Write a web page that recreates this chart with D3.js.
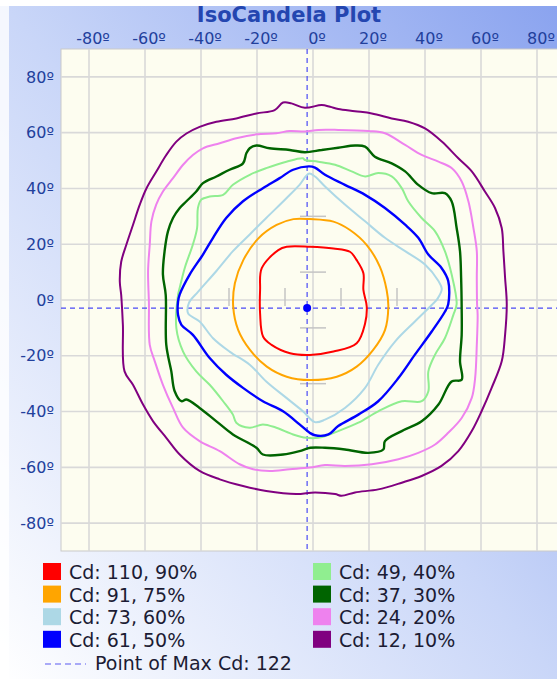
<!DOCTYPE html>
<html>
<head>
<meta charset="utf-8">
<script src="https://d3js.org/d3.v7.min.js"></script>
<style>
  html, body { margin: 0; padding: 0; background: #fff; overflow: hidden; }
  svg { display: block; font-family: "DejaVu Sans", Verdana, sans-serif; }
</style>
</head>
<body>
<div id="chart"></div>
<script>
// IsoCandela plot - contours in degrees (horizontal, vertical)

const xTicks = [-80, -60, -40, -20, 0, 20, 40, 60, 80];
const yTicks = [-80, -60, -40, -20, 0, 20, 40, 60, 80];
const minorTicks = [-30, -10, 10, 30];

const levelCd = [110, 91, 73, 61, 49, 37, 24, 12];
const levelPct = [90, 75, 60, 50, 40, 30, 20, 10];
const levelColors = ['#ff0000', '#ffa500', '#add8e6', '#0000ff', '#90ee90', '#006400', '#ee82ee', '#800080'];

const maxCd = 122;
const maxPoint = [-2.1, -2.9];

const red90 = [[-1.1,19.1],[7.3,18.5],[13.2,17.3],[15.6,14.3],[18.0,9.6],[18.0,3.6],[19.2,-2.4],[18.6,-8.4],[15.6,-15.5],[7.3,-18.5],[-1.1,-19.7],[-8.2,-19.1],[-14.8,-16.1],[-17.8,-13.2],[-18.9,-4.8],[-18.9,3.6],[-18.3,11.4],[-12.4,17.9],[-9.4,19.1]];

const orange75 = [[-1.1,29.0],[7.3,28.1],[13.2,25.1],[19.2,19.7],[23.9,11.9],[26.3,3.6],[26.9,-2.4],[25.7,-10.8],[21.5,-17.9],[15.6,-23.9],[8.5,-27.5],[-1.1,-28.7],[-9.4,-27.5],[-16.5,-23.9],[-22.5,-17.9],[-26.7,-10.8],[-28.5,-2.4],[-27.9,6.0],[-24.9,14.3],[-19.5,22.1],[-13.0,26.9],[-7.0,29.0]];

const lightBlue60 = [[-1.5,45.3],[0.7,44.3],[4.3,40.7],[11.4,34.2],[18.6,28.2],[25.7,22.3],[32.9,17.5],[40.0,12.7],[44.8,6.8],[46.0,4.0],[44.5,0.5],[42.4,-1.8],[36.4,-7.7],[29.3,-14.9],[23.3,-23.2],[18.6,-31.5],[11.4,-38.7],[4.3,-42.9],[0.7,-43.8],[-3.6,-39.9],[-9.5,-35.1],[-16.7,-29.2],[-22.6,-23.2],[-29.8,-18.5],[-35.7,-13.7],[-40.5,-7.7],[-44.6,-4.8],[-44.3,-1.0],[-41.0,3.0],[-34.5,10.4],[-28.6,17.5],[-22.6,23.5],[-16.7,29.4],[-9.5,36.5],[-4.8,41.3]];

const blue50 = [[-1.5,47.9],[0.7,47.5],[4.3,44.9],[11.4,41.3],[18.6,37.7],[25.7,33.0],[32.9,27.0],[37.6,22.3],[41.2,16.3],[45.9,11.5],[48.3,6.8],[48.3,-1.5],[47.1,-4.2],[42.4,-11.3],[36.4,-19.6],[30.5,-28.0],[23.3,-36.3],[16.2,-41.1],[9.0,-45.2],[5.5,-48.2],[0.7,-48.5],[-1.2,-47.6],[-4.8,-44.6],[-10.7,-39.9],[-17.9,-36.3],[-25.0,-31.5],[-31.0,-26.8],[-36.9,-20.8],[-42.9,-12.5],[-47.0,-8.9],[-48.2,-5.4],[-48.2,-0.6],[-47.6,2.0],[-44.0,9.2],[-39.3,16.3],[-35.7,22.3],[-31.0,29.4],[-25.0,35.4],[-17.9,40.1],[-11.9,43.7],[-7.1,46.7]];

const lightGreen40 = [[-2.9,50.2],[1.9,49.6],[7.9,48.5],[13.8,46.1],[18.6,44.3],[23.3,45.5],[28.1,44.3],[31.7,40.1],[34.0,35.4],[38.8,29.4],[43.6,24.6],[47.1,17.5],[49.5,9.2],[51.3,-1.5],[50.1,-5.4],[47.1,-13.7],[43.6,-19.6],[41.2,-25.6],[41.2,-32.7],[38.8,-36.3],[31.7,-36.3],[23.3,-39.9],[16.2,-44.0],[9.0,-47.0],[1.9,-49.4],[-2.4,-49.4],[-7.1,-48.2],[-13.1,-45.8],[-17.9,-44.6],[-22.6,-45.8],[-27.4,-44.0],[-28.6,-41.1],[-32.1,-36.3],[-36.9,-30.4],[-41.7,-25.6],[-46.4,-18.5],[-48.8,-10.1],[-48.2,1.8],[-47.6,4.4],[-45.8,11.5],[-42.9,19.9],[-41.4,25.8],[-41.1,33.0],[-39.9,36.0],[-36.9,37.1],[-32.1,37.7],[-28.6,41.3],[-22.6,44.9],[-16.7,47.3],[-9.5,49.6],[-3.6,50.8]];

const darkGreen30 = [[-2.9,53.0],[3.1,53.8],[9.0,54.6],[15.0,55.4],[18.6,55.0],[22.1,51.4],[28.1,49.0],[32.9,46.1],[37.6,41.3],[42.4,38.3],[47.1,38.3],[49.5,35.4],[51.3,25.8],[52.5,17.5],[52.9,8.0],[53.1,-3.0],[53.1,-12.5],[52.5,-22.0],[53.1,-28.6],[49.5,-29.2],[44.8,-37.5],[38.8,-43.5],[31.7,-47.0],[25.7,-50.6],[25.1,-53.6],[19.8,-54.8],[11.4,-53.6],[4.3,-53.0],[-1.0,-53.0],[-4.8,-54.2],[-10.7,-55.4],[-17.9,-55.4],[-20.2,-53.0],[-28.6,-48.2],[-34.5,-43.5],[-40.5,-38.7],[-45.2,-35.7],[-47.0,-36.3],[-49.4,-32.7],[-50.6,-25.6],[-52.4,-16.1],[-52.6,1.8],[-53.6,9.2],[-53.0,17.5],[-51.8,24.6],[-50.0,29.4],[-47.6,33.0],[-45.2,35.4],[-41.7,38.9],[-39.3,41.9],[-34.5,44.3],[-29.8,46.7],[-25.0,49.0],[-23.8,52.6],[-22.6,54.4],[-20.2,55.4],[-15.5,54.4],[-8.3,53.8]];

const violet20 = [[-2.9,60.4],[1.9,61.0],[9.0,61.0],[19.8,60.6],[25.7,59.8],[32.9,55.6],[38.8,52.0],[44.8,49.6],[49.5,47.3],[53.1,42.5],[55.5,35.4],[57.3,25.8],[58.5,17.5],[58.5,8.0],[58.6,-1.5],[58.8,-5.4],[58.5,-16.1],[57.9,-28.0],[56.7,-35.1],[53.1,-42.3],[48.3,-47.6],[43.6,-51.8],[37.6,-54.8],[30.5,-57.1],[21.0,-58.9],[11.4,-59.5],[4.3,-59.2],[-1.2,-60.1],[-8.3,-60.7],[-15.5,-61.3],[-21.4,-60.7],[-26.2,-58.9],[-33.3,-54.2],[-40.5,-50.6],[-46.4,-45.8],[-50.0,-38.7],[-53.6,-30.4],[-56.5,-22.0],[-58.3,-16.1],[-58.6,-1.0],[-58.9,10.4],[-58.3,19.9],[-57.7,28.2],[-56.0,34.2],[-53.6,38.9],[-50.0,43.7],[-46.4,48.5],[-42.9,52.0],[-39.3,54.4],[-33.3,56.2],[-27.4,58.0],[-20.2,59.4],[-13.1,59.8],[-8.3,60.6]];

const purple10 = [[-2.9,68.9],[3.1,69.9],[6.1,69.3],[9.0,68.5],[15.0,67.7],[21.0,66.9],[28.1,65.1],[34.0,63.9],[40.0,61.5],[46.0,56.8],[51.9,50.8],[56.7,46.1],[61.4,38.9],[65.0,33.0],[67.4,25.8],[68.0,17.5],[68.6,8.0],[69.2,-1.5],[68.6,-12.5],[67.4,-22.0],[63.8,-31.5],[60.2,-39.9],[56.7,-47.0],[51.9,-54.2],[45.9,-59.5],[38.8,-63.1],[31.7,-65.5],[23.3,-67.9],[15.0,-69.0],[10.2,-70.2],[7.9,-69.6],[0.7,-69.0],[-6.0,-69.6],[-16.7,-68.5],[-25.0,-66.7],[-33.3,-64.3],[-40.5,-61.3],[-47.6,-55.4],[-52.4,-49.4],[-57.1,-43.5],[-60.7,-37.5],[-64.3,-30.4],[-67.3,-25.6],[-67.9,-8.9],[-68.5,1.8],[-69.0,6.6],[-68.5,13.7],[-66.7,19.7],[-64.3,26.9],[-61.9,34.1],[-59.5,40.0],[-56.0,46.0],[-52.4,52.0],[-48.8,56.8],[-45.2,59.7],[-40.5,62.1],[-34.5,63.9],[-27.4,65.1],[-20.2,66.9],[-13.7,68.1],[-10.7,70.8],[-7.7,70.5]];

const contours = [red90, orange75, lightBlue60, blue50, lightGreen40, darkGreen30, violet20, purple10];

const width = 557, height = 679;

const svg = d3.select('#chart').append('svg')
    .attr('width', width)
    .attr('height', height);

// background gradient
const defs = svg.append('defs');
const grad = defs.append('linearGradient')
    .attr('id', 'bg')
    .attr('x1', 0).attr('y1', 1).attr('x2', 1).attr('y2', 0);
grad.append('stop').attr('offset', 0).attr('stop-color', '#ffffff');
grad.append('stop').attr('offset', 0.5).attr('stop-color', '#c9d6f8');
grad.append('stop').attr('offset', 1).attr('stop-color', '#8aa3ef');

svg.append('rect').attr('width', width).attr('height', height).attr('fill', 'url(#bg)');
svg.append('rect').attr('width', width).attr('height', 6).attr('fill', '#fff');
svg.append('rect').attr('width', 9).attr('height', height).attr('fill', '#fff').attr('opacity', 0.8);

const x = d3.scaleLinear().domain([-90, 90]).range([61, 565]);
const y = d3.scaleLinear().domain([-90, 90]).range([551, 49]);

// plot area
svg.append('rect')
    .attr('x', x(-90)).attr('y', y(90))
    .attr('width', x(90) - x(-90)).attr('height', y(-90) - y(90))
    .attr('fill', '#fdfdf0')
    .attr('stroke', '#c9c9c9');

const grid = svg.append('g').attr('stroke', '#d9d9d9').attr('stroke-width', 1.6);
grid.selectAll('line.vx').data(xTicks).join('line')
    .attr('x1', d => x(d)).attr('x2', d => x(d))
    .attr('y1', y(90)).attr('y2', y(-90));
grid.selectAll('line.hy').data(yTicks).join('line')
    .attr('y1', d => y(d)).attr('y2', d => y(d))
    .attr('x1', x(-90)).attr('x2', x(90));

// small marks along the centre lines
const marks = svg.append('g').attr('stroke', '#c4c4c4').attr('stroke-width', 1.5);
marks.selectAll('line.mx').data(minorTicks).join('line')
    .attr('x1', d => x(d)).attr('x2', d => x(d))
    .attr('y1', y(0) - 12).attr('y2', y(0) + 6);
marks.selectAll('line.my').data(minorTicks).join('line')
    .attr('y1', d => y(d)).attr('y2', d => y(d))
    .attr('x1', x(0) - 13).attr('x2', x(0) + 13);

// axes (labels only)
const labelColor = '#22409c';
const topAxis = svg.append('g')
    .attr('transform', 'translate(0,44)')
    .call(d3.axisTop(x).tickValues(xTicks).tickSize(0).tickPadding(0).tickFormat(d => d + 'º'));
const leftAxis = svg.append('g')
    .attr('transform', 'translate(54,0)')
    .call(d3.axisLeft(y).tickValues(yTicks).tickSize(0).tickPadding(0).tickFormat(d => d + 'º'));
[topAxis, leftAxis].forEach(g => {
    g.select('.domain').remove();
    g.selectAll('text')
        .attr('fill', labelColor)
        .style('font-size', '16px')
        .style('font-family', '"DejaVu Sans", Verdana, sans-serif');
});
topAxis.selectAll('text').attr('dx', 3.5);

// point of max dashed lines
const dash = svg.append('g').attr('stroke', '#4a4af5').attr('stroke-width', 1.2).attr('stroke-dasharray', '5,4');
dash.append('line')
    .attr('x1', x(maxPoint[0])).attr('x2', x(maxPoint[0]))
    .attr('y1', y(90)).attr('y2', y(-90));
dash.append('line')
    .attr('x1', x(-90)).attr('x2', x(90))
    .attr('y1', y(maxPoint[1])).attr('y2', y(maxPoint[1]));

// iso-candela contours
const line = d3.line()
    .x(d => x(d[0]))
    .y(d => y(d[1]))
    .curve(d3.curveCatmullRomClosed.alpha(0.5));

svg.append('g').attr('fill', 'none')
    .selectAll('path')
    .data(contours.map((c, i) => ({pts: c, color: levelColors[i], i})).reverse())
    .join('path')
    .attr('d', d => line(d.pts))
    .attr('stroke', d => d.color)
    .attr('stroke-width', d => (d.i === 3 || d.i === 5) ? 2.4 : 2)
    .attr('stroke-linejoin', 'round');

svg.append('circle')
    .attr('cx', x(maxPoint[0])).attr('cy', y(maxPoint[1]))
    .attr('r', 4).attr('fill', '#0000ff');

// title
svg.append('text')
    .attr('x', 289).attr('y', 22)
    .attr('text-anchor', 'middle')
    .attr('fill', '#2446b0')
    .style('font-size', '21px')
    .style('font-weight', 'bold')
    .text('IsoCandela Plot');

// legend
const legend = svg.append('g');
const items = legend.selectAll('g.item')
    .data(levelCd.map((cd, i) => ({cd, pct: levelPct[i], color: levelColors[i], i})))
    .join('g')
    .attr('transform', d => `translate(${d.i < 4 ? 43 : 313},${579 + (d.i % 4) * 22.6})`);
items.append('rect')
    .attr('x', 0).attr('y', -16)
    .attr('width', 18).attr('height', 17)
    .attr('fill', d => d.color);
items.append('text')
    .attr('x', 26).attr('y', 0)
    .attr('fill', '#1c1c34')
    .style('font-size', '19px')
    .text(d => `Cd: ${d.cd}, ${d.pct}%`);

legend.append('line')
    .attr('x1', 45).attr('x2', 86)
    .attr('y1', 664).attr('y2', 664)
    .attr('stroke', '#5a5af0').attr('stroke-width', 1.2)
    .attr('stroke-dasharray', '6,4');
legend.append('text')
    .attr('x', 95).attr('y', 670)
    .attr('fill', '#1c1c34')
    .style('font-size', '19px')
    .text(`Point of Max Cd: ${maxCd}`);
</script>
</body>
</html>
